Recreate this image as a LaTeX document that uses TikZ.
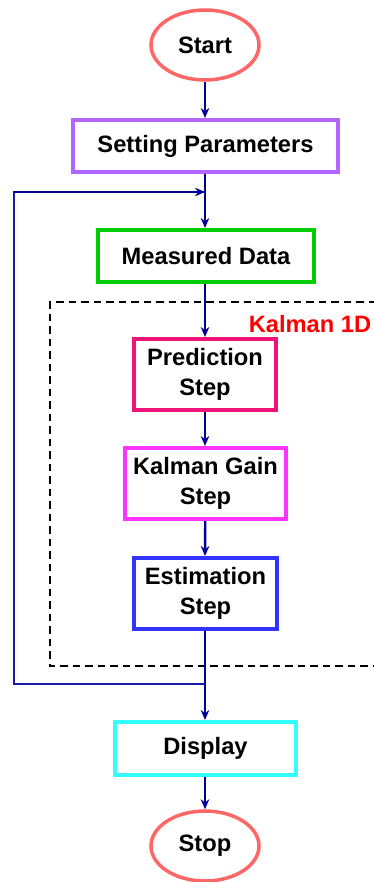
\documentclass[tikz,border=0pt]{standalone}
\usepackage{fontspec}
\setmainfont{Liberation Sans}
\usetikzlibrary{arrows.meta,shapes.geometric}
\definecolor{navyarrow}{HTML}{000099}
\definecolor{loopblue}{HTML}{1A1AAA}
\definecolor{termred}{HTML}{FF6666}
\definecolor{setpurple}{HTML}{B266FF}
\definecolor{measgreen}{HTML}{00CC00}
\definecolor{predpink}{HTML}{F0147A}
\definecolor{gainmag}{HTML}{FF33FF}
\definecolor{estblue}{HTML}{3333FF}
\definecolor{dispcyan}{HTML}{33FFFF}
\begin{document}
\begin{tikzpicture}[x=1pt,y=-1pt,
  every node/.style={font=\fontsize{23.7}{30}\selectfont\bfseries, text=black, inner sep=0pt},
  termbox/.style={ellipse, draw=termred, line width=3.5pt, minimum width=108, minimum height=70},
  procbox/.style={rectangle, draw, line width=4pt, align=center},
  flow/.style={draw=navyarrow, line width=2.4pt, -{Stealth[length=10pt,width=8.5pt]}},
  loopline/.style={draw=loopblue, line width=2.2pt}
]
\useasboundingbox (0,0) rectangle (374,882);
% dashed group
\draw[line width=2.6pt, dash pattern=on 7.5pt off 5pt] (376,302) -- (50,302) -- (50,666) -- (376,666);
\node[text=red] (klabel) at (310,324) {Kalman 1D};

\node[termbox] (start) at (205,45) {Start};
\node[procbox, draw=setpurple, minimum width=265, minimum height=52] (setp) at (205.5,146) {Setting Parameters};
\node[procbox, draw=measgreen, minimum width=216, minimum height=52] (meas) at (206,256) {Measured Data};
\node[procbox, draw=predpink, minimum width=142, minimum height=71] (pred) at (205,374.5) {Prediction\\Step};
\node[procbox, draw=gainmag, minimum width=161, minimum height=71] (gain) at (205.5,483.5) {Kalman Gain\\Step};
\node[procbox, draw=estblue, minimum width=143, minimum height=71] (est) at (205.5,593.5) {Estimation\\Step};
\node[procbox, draw=dispcyan, minimum width=181, minimum height=53] (disp) at (205.5,748.5) {Display};
\node[termbox] (stop) at (205,846) {Stop};

\coordinate (jtop) at (205,192);
\coordinate (jbot) at (205,684);
\coordinate (lbot) at (14,684);
\coordinate (ltop) at (14,192);

\draw[flow] (start) -- (start.south |- setp.north);
\draw[flow] (setp.south -| start) -- (start |- meas.north);
\draw[flow] (meas.south -| start) -- (start |- pred.north);
\draw[flow] (pred) -- (start |- gain.north);
\draw[flow] (gain) -- (start |- est.north);
\draw[flow] (est.south -| start) -- (start |- disp.north);
\draw[flow] (disp.south -| start) -- (stop);
\draw[loopline] (jbot) -- (lbot) -- (ltop) -- (jtop);
\draw[flow] (ltop) -- (jtop);
\end{tikzpicture}
\end{document}
